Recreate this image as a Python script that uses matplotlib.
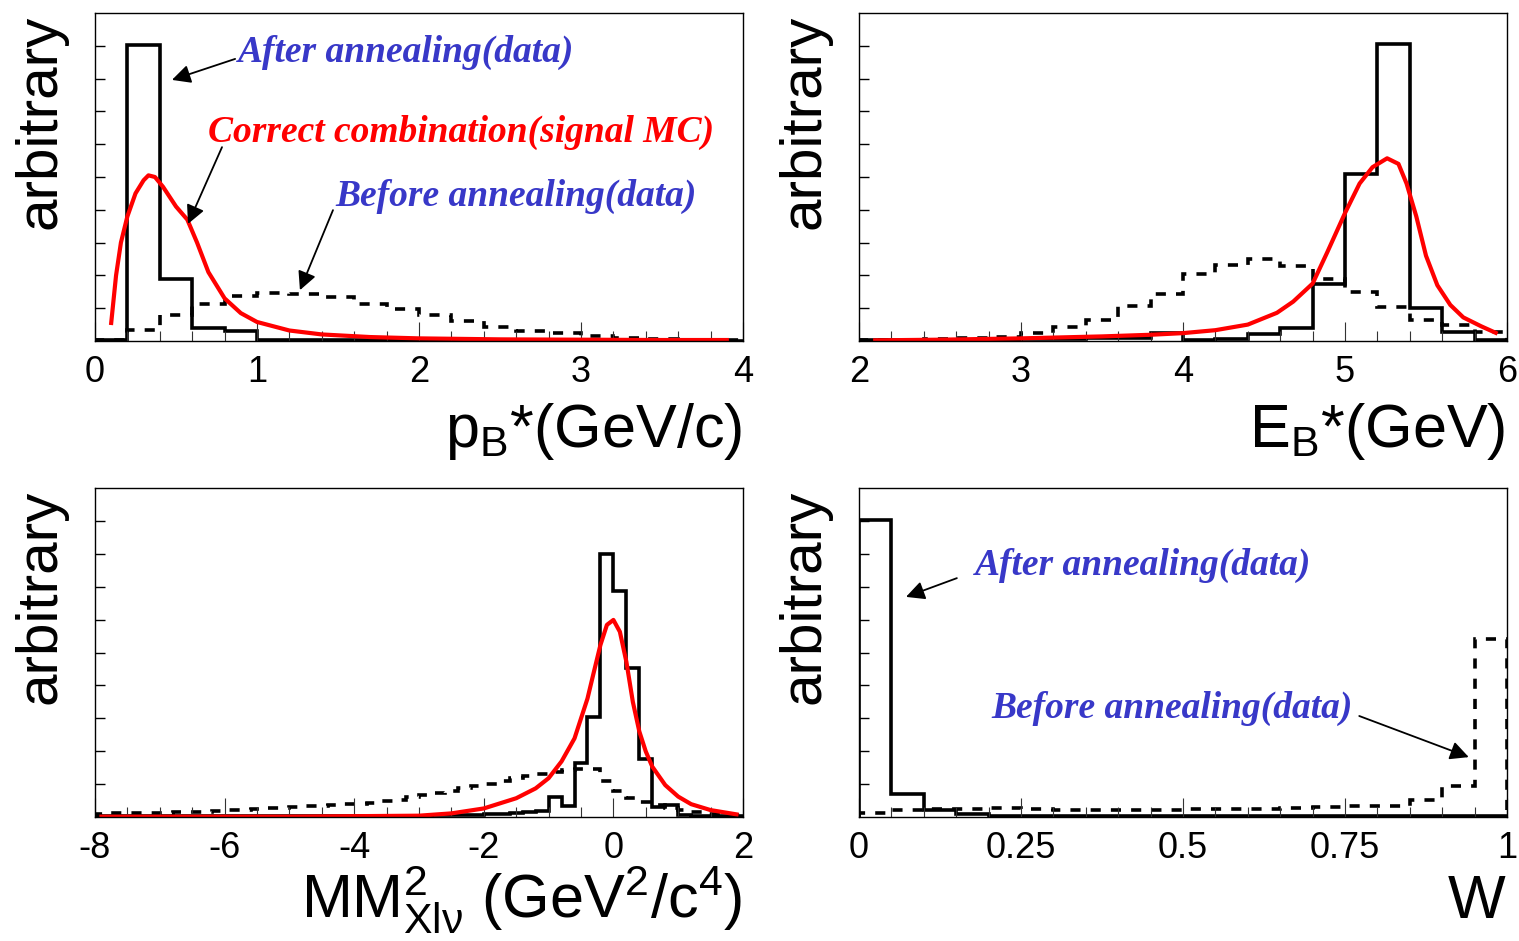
import numpy as np
import matplotlib
matplotlib.use('Agg')
import matplotlib.pyplot as plt
from matplotlib.ticker import MultipleLocator

plt.rcParams['font.family'] = ['Liberation Sans', 'DejaVu Sans']
plt.rcParams['mathtext.fontset'] = 'custom'
plt.rcParams['mathtext.rm'] = 'Liberation Sans'
plt.rcParams['mathtext.it'] = 'Liberation Sans:italic'
plt.rcParams['mathtext.bf'] = 'Liberation Sans:bold'

# ---- p_B* (GeV/c), bins of 0.2 from 0 to 4
pb_after = [0.003, 0.902, 0.188, 0.039, 0.029, 0.003, 0.003, 0.002, 0.002, 0.002,
            0.001, 0.001, 0.001, 0.001, 0.001, 0.001, 0.001, 0.001, 0.001, 0.001]
pb_before = [0.002, 0.034, 0.080, 0.112, 0.137, 0.145, 0.144, 0.134, 0.114, 0.098,
             0.078, 0.062, 0.044, 0.032, 0.024, 0.014, 0.009, 0.006, 0.004, 0.003]
pb_mc_x = [0.10, 0.13, 0.16, 0.20, 0.25, 0.30, 0.33, 0.37, 0.42, 0.50, 0.57, 0.63,
           0.70, 0.80, 0.90, 1.00, 1.20, 1.40, 1.70, 2.00, 2.50, 3.00, 3.50, 3.90]
pb_mc_y = [0.055, 0.20, 0.30, 0.38, 0.45, 0.49, 0.505, 0.50, 0.47, 0.41, 0.37, 0.30,
           0.21, 0.13, 0.085, 0.058, 0.032, 0.020, 0.012, 0.008, 0.005, 0.004, 0.003, 0.003]

# ---- E_B* (GeV), bins of 0.2 from 2 to 6
eb_after = [0.002, 0.002, 0.003, 0.003, 0.004, 0.005, 0.006, 0.008, 0.010, 0.025,
            0.003, 0.007, 0.020, 0.040, 0.174, 0.508, 0.904, 0.102, 0.027, 0.003]
eb_before = [0.002, 0.002, 0.006, 0.008, 0.013, 0.024, 0.043, 0.063, 0.108, 0.142,
             0.203, 0.233, 0.250, 0.228, 0.190, 0.150, 0.104, 0.063, 0.048, 0.026]
eb_mc_x = [2.10, 2.50, 3.00, 3.50, 3.80, 4.00, 4.20, 4.40, 4.58, 4.68, 4.80, 4.89,
           5.00, 5.09, 5.17, 5.26, 5.33, 5.38, 5.44, 5.50, 5.57, 5.65, 5.73, 5.84, 5.93]
eb_mc_y = [0.002, 0.004, 0.008, 0.014, 0.019, 0.024, 0.033, 0.050, 0.086, 0.120, 0.175, 0.270,
           0.390, 0.480, 0.530, 0.557, 0.540, 0.480, 0.380, 0.260, 0.170, 0.110, 0.072, 0.045, 0.025]

# ---- MM^2 (GeV^2/c^4), bins of 0.2 from -8 to 2
mm_after = [0.002, 0.002, 0.002, 0.002, 0.002, 0.002, 0.002, 0.002, 0.002, 0.002,
            0.002, 0.002, 0.002, 0.002, 0.002, 0.002, 0.002, 0.002, 0.002, 0.002,
            0.003, 0.003, 0.003, 0.003, 0.004, 0.004, 0.005, 0.005, 0.006, 0.007,
            0.008, 0.010, 0.012, 0.015, 0.018, 0.062, 0.033, 0.163, 0.305, 0.800,
            0.687, 0.452, 0.176, 0.031, 0.035, 0.006, 0.004, 0.003, 0.002, 0.002]
mm_before = [0.010, 0.011, 0.011, 0.012, 0.012, 0.013, 0.014, 0.015, 0.016, 0.018,
             0.020, 0.022, 0.024, 0.026, 0.028, 0.030, 0.032, 0.034, 0.037, 0.039,
             0.041, 0.044, 0.048, 0.053, 0.060, 0.067, 0.074, 0.080, 0.087, 0.093,
             0.100, 0.110, 0.120, 0.126, 0.132, 0.137, 0.142, 0.147, 0.145, 0.110,
             0.078, 0.058, 0.047, 0.036, 0.028, 0.021, 0.014, 0.010, 0.008, 0.006]
mm_mc_x = [-7.9, -5.0, -3.0, -2.5, -2.0, -1.5, -1.2, -1.0, -0.8, -0.6, -0.4, -0.3, -0.2,
           -0.1, 0.0, 0.1, 0.2, 0.3, 0.4, 0.5, 0.6, 0.8, 1.0, 1.2, 1.5, 1.9]
mm_mc_y = [0.001, 0.001, 0.004, 0.011, 0.026, 0.057, 0.087, 0.118, 0.169, 0.239, 0.360, 0.442,
           0.523, 0.584, 0.599, 0.563, 0.472, 0.350, 0.260, 0.199, 0.153, 0.097, 0.062, 0.039,
           0.021, 0.008]

# ---- W, bins of 0.05 from 0 to 1
w_after = [0.903, 0.069, 0.021, 0.008, 0.003, 0.002, 0.002, 0.002, 0.002, 0.002,
           0.002, 0.002, 0.002, 0.002, 0.002, 0.002, 0.002, 0.002, 0.002, 0.002]
w_before = [0.013, 0.021, 0.024, 0.025, 0.027, 0.025, 0.022, 0.020, 0.022, 0.020,
            0.024, 0.025, 0.025, 0.027, 0.030, 0.032, 0.034, 0.052, 0.094, 0.540]

W_PX, H_PX = 1519, 941
fig = plt.figure(figsize=(W_PX / 100, H_PX / 100), dpi=100)

def panel(l, t, r, b):
    return fig.add_axes([l / W_PX, 1 - b / H_PX, (r - l) / W_PX, (b - t) / H_PX])

blue = '#3838c8'
dash = (0, (2.8, 2.8))
HIST_LW = 2.6
MC_LW = 3.0

def setup(ax, lo, hi, major, minor, labels):
    ax.set_xlim(lo, hi)
    ax.set_ylim(0, 1)
    ax.set_yticks(np.arange(0.1, 0.95, 0.1))
    ax.xaxis.set_major_locator(MultipleLocator(major))
    ax.xaxis.set_minor_locator(MultipleLocator(minor))
    ax.set_xticks(np.linspace(lo, hi, len(labels)), labels, minor=False)
    ax.tick_params(axis='y', direction='in', length=7, width=1, left=True, labelleft=False)
    ax.tick_params(axis='x', which='major', direction='in', length=14, width=0.8,
                   color='#333333', labelsize=26, pad=10)
    ax.tick_params(axis='x', which='minor', direction='in', length=7, width=0.8, color='#333333')
    for s in ax.spines.values():
        s.set_linewidth(1.0)

def draw(ax, edges, after, before):
    ax.stairs(after, edges, color='black', lw=HIST_LW)
    ax.stairs(before, edges, color='black', lw=HIST_LW, linestyle=dash)

def note(ax, text, x, y, color):
    ax.text(x, y, text, color=color, fontsize=27, family='Liberation Serif',
            weight='bold', style='italic', ha='left', va='center')

def arrow(ax, tail, head):
    ax.annotate('', xy=head, xytext=tail,
                arrowprops=dict(arrowstyle='-|>', color='black', lw=1.3,
                                mutation_scale=28, shrinkA=0, shrinkB=0))

# top left: p_B*
ax1 = panel(95, 13, 743, 341)
setup(ax1, 0, 4, 1, 0.2, ['0', '1', '2', '3', '4'])
draw(ax1, np.linspace(0, 4, 21), pb_after, pb_before)
ax1.plot(pb_mc_x, pb_mc_y, color='red', lw=MC_LW)
note(ax1, 'After annealing(data)', 0.883, 0.881, blue)
arrow(ax1, (0.865, 0.860), (0.475, 0.796))
note(ax1, 'Correct combination(signal MC)', 0.698, 0.637, 'red')
arrow(ax1, (0.784, 0.591), (0.574, 0.357))
note(ax1, 'Before annealing(data)', 1.481, 0.442, blue)
arrow(ax1, (1.469, 0.399), (1.265, 0.155))

# top right: E_B*
ax2 = panel(859, 13, 1507, 341)
setup(ax2, 2, 6, 1, 0.2, ['2', '3', '4', '5', '6'])
draw(ax2, np.linspace(2, 6, 21), eb_after, eb_before)
ax2.plot(eb_mc_x, eb_mc_y, color='red', lw=MC_LW)

# bottom left: missing mass squared
ax3 = panel(95, 488, 743, 817)
setup(ax3, -8, 2, 2, 0.5, ['-8', '-6', '-4', '-2', '0', '2'])
draw(ax3, np.linspace(-8, 2, 51), mm_after, mm_before)
ax3.plot(mm_mc_x, mm_mc_y, color='red', lw=MC_LW)

# bottom right: W
ax4 = panel(859, 488, 1507, 817)
setup(ax4, 0, 1, 0.25, 0.05, ['0', '0.25', '0.5', '0.75', '1'])
draw(ax4, np.linspace(0, 1, 21), w_after, w_before)
note(ax4, 'After annealing(data)', 0.179, 0.766, blue)
arrow(ax4, (0.151, 0.726), (0.0725, 0.669))
note(ax4, 'Before annealing(data)', 0.205, 0.331, blue)
arrow(ax4, (0.772, 0.307), (0.941, 0.182))

# axis titles
for x, y in [(40, 15), (805, 15), (40, 490), (805, 490)]:
    fig.text(x / W_PX, 1 - y / H_PX, 'arbitrary', rotation=90, fontsize=42,
             ha='center', va='top')

fig.text(742 / W_PX, 1 - 447 / H_PX, r'p$_{\mathrm{B}}$*(GeV/c)', fontsize=44,
         ha='right', va='baseline')
fig.text(1505 / W_PX, 1 - 447 / H_PX, r'E$_{\mathrm{B}}$*(GeV)', fontsize=44,
         ha='right', va='baseline')
fig.text(742 / W_PX, 1 - 918 / H_PX, r'MM$_{\mathrm{Xlν}}^{\mathrm{2}}$ (GeV$^{\mathrm{2}}$/c$^{\mathrm{4}}$)',
         fontsize=44, ha='right', va='baseline')
fig.text(1505 / W_PX, 1 - 918 / H_PX, 'W', fontsize=44, ha='right', va='baseline')

fig.savefig('out.png', dpi=100)
